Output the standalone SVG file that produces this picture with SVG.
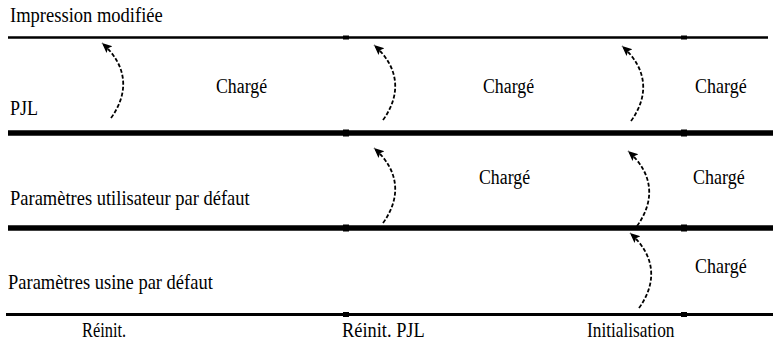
<svg xmlns="http://www.w3.org/2000/svg" width="773" height="342" viewBox="0 0 773 342">
  <defs>
    <marker id="head" markerUnits="userSpaceOnUse" markerWidth="13" markerHeight="10" refX="10" refY="4.5" orient="auto">
      <path d="M0,0 L10,4.5 L0,9 L2,4.5 Z" fill="#000"/>
    </marker>
  </defs>

  <!-- background -->
  <rect width="773" height="342" fill="#fff"/>

  <!-- setting levels: bar, small joint marks, label (labels are horizontally condensed) -->
  <g font-family="Liberation Serif, Times New Roman, serif" font-size="20" fill="#000">
    <g id="level-print">
      <line x1="8" y1="37.5" x2="768" y2="37.5" stroke="#000" stroke-width="2.5"/>
      <rect x="343" y="35.5" width="6" height="4"/>
      <rect x="681" y="35.5" width="6" height="4"/>
      <text transform="translate(10 22) scale(0.927 1)">Impression modifiée</text>
    </g>
    <g id="level-pjl">
      <line x1="8" y1="133" x2="773" y2="133" stroke="#000" stroke-width="5.5"/>
      <rect x="343" y="129.5" width="6" height="7"/>
      <rect x="681" y="129.5" width="6" height="7"/>
      <text transform="translate(10 115) scale(0.9 1)">PJL</text>
    </g>
    <g id="level-user">
      <line x1="8" y1="228" x2="773" y2="228" stroke="#000" stroke-width="5.5"/>
      <rect x="343" y="224.5" width="6" height="7"/>
      <rect x="681" y="224.5" width="6" height="7"/>
      <text transform="translate(10 205) scale(0.925 1)">Paramètres utilisateur par défaut</text>
    </g>
    <g id="level-factory">
      <line x1="6" y1="314.5" x2="773" y2="314.5" stroke="#000" stroke-width="3"/>
      <rect x="343" y="312" width="6" height="5"/>
      <rect x="681" y="312" width="6" height="5"/>
      <text transform="translate(8 289) scale(0.925 1)">Paramètres usine par défaut</text>
    </g>

    <!-- reset events -->
    <g id="event-reset">
      <text transform="translate(82 337) scale(0.82 1)">Réinit.</text>
    </g>
    <g id="event-pjl-reset">
      <text transform="translate(342 337) scale(0.92 1)">Réinit. PJL</text>
    </g>
    <g id="event-init">
      <text transform="translate(587 337) scale(0.866 1)">Initialisation</text>
    </g>

    <!-- "Chargé" labels -->
    <g id="loaded-labels">
      <text transform="translate(216 93) scale(0.89 1)">Chargé</text>
      <text transform="translate(483 93) scale(0.89 1)">Chargé</text>
      <text transform="translate(695 93) scale(0.9 1)">Chargé</text>
      <text transform="translate(479 184) scale(0.89 1)">Chargé</text>
      <text transform="translate(693 184) scale(0.9 1)">Chargé</text>
      <text transform="translate(695 273) scale(0.9 1)">Chargé</text>
    </g>
  </g>

  <!-- connectors: curved dashed arrows, tail at the bottom, head at the top -->
  <g id="connectors" fill="none" stroke="#000" stroke-width="1.8" stroke-dasharray="4 2" marker-end="url(#head)">
    <path d="M111,118 C129,93 128,66 102,43"/>
    <path d="M383,120 C401,95 400,68 374,45"/>
    <path d="M631,121 C649,96 648,69 622,46"/>
    <path d="M383,223 C401,198 400,171 374,148"/>
    <path d="M637,226 C655,201 654,174 628,151"/>
    <path d="M639,308 C657,283 656,256 630,233"/>
  </g>
</svg>
